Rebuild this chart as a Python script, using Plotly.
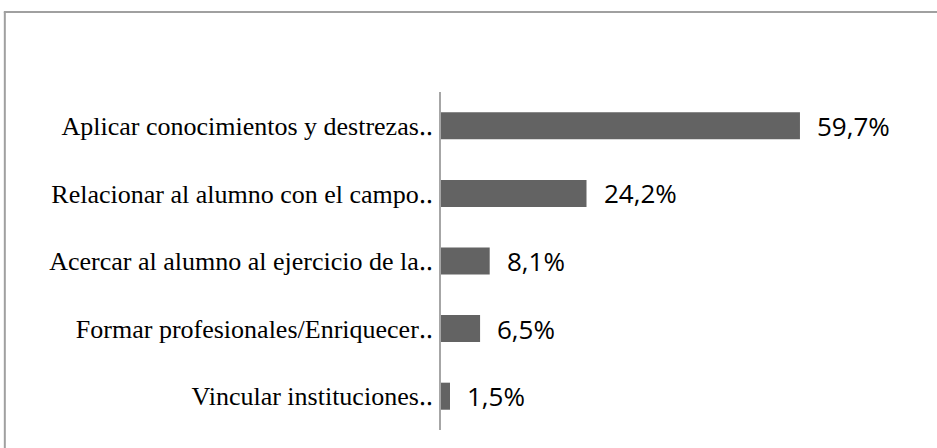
import plotly.graph_objects as go

categories = [
    "Aplicar conocimientos y destrezas‥",
    "Relacionar al alumno con el campo‥",
    "Acercar al alumno al ejercicio de la‥",
    "Formar profesionales/Enriquecer‥",
    "Vincular instituciones‥",
]
values = [59.7, 24.2, 8.1, 6.5, 1.5]
value_labels = ["59,7%", "24,2%", "8,1%", "6,5%", "1,5%"]

W, H = 937, 448
L, T, B = 441, 92, 18
XMAX = 80
PX_PER = 6.01
plot_w = XMAX * PX_PER
R = W - L - plot_w
plot_h = H - T - B

fig = go.Figure()
fig.add_trace(go.Bar(
    x=values, y=categories, orientation="h",
    marker=dict(color="#636363", line=dict(width=0)),
    width=0.4, hoverinfo="skip",
))

for v, c, t in zip(values, categories, value_labels):
    fig.add_annotation(x=v, y=c, text=t, showarrow=False, xanchor="left",
                       xshift=15, font=dict(family="Open Sans", size=26, color="#000000"))

def px_x(px):
    return (px - L) / plot_w

def px_y(py):
    return (H - B - py) / plot_h

# outer frame (top and left edges visible)
fig.add_shape(type="line", xref="paper", yref="paper",
              x0=px_x(4), x1=px_x(940), y0=px_y(12), y1=px_y(12),
              line=dict(color="#a0a0a0", width=2))
fig.add_shape(type="line", xref="paper", yref="paper",
              x0=px_x(5), x1=px_x(5), y0=px_y(12), y1=px_y(450),
              line=dict(color="#a0a0a0", width=2))

fig.update_layout(
    width=W, height=H,
    margin=dict(l=L, r=R, t=T, b=B, autoexpand=False),
    plot_bgcolor="white", paper_bgcolor="white",
    showlegend=False,
    xaxis=dict(range=[0, XMAX], showgrid=False, zeroline=False,
               showticklabels=False, ticks="", showline=False),
    yaxis=dict(autorange="reversed", showgrid=False, zeroline=False,
               showline=True, linecolor="#a6a6a6", linewidth=2,
               ticks="", ticklen=0, ticklabelstandoff=1,
               tickfont=dict(family="Liberation Serif", size=26, color="#000000")),
)

fig.write_html("out.html", config={"displayModeBar": False},
               post_script="document.body.style.margin='0px';document.body.style.overflow='hidden';")
